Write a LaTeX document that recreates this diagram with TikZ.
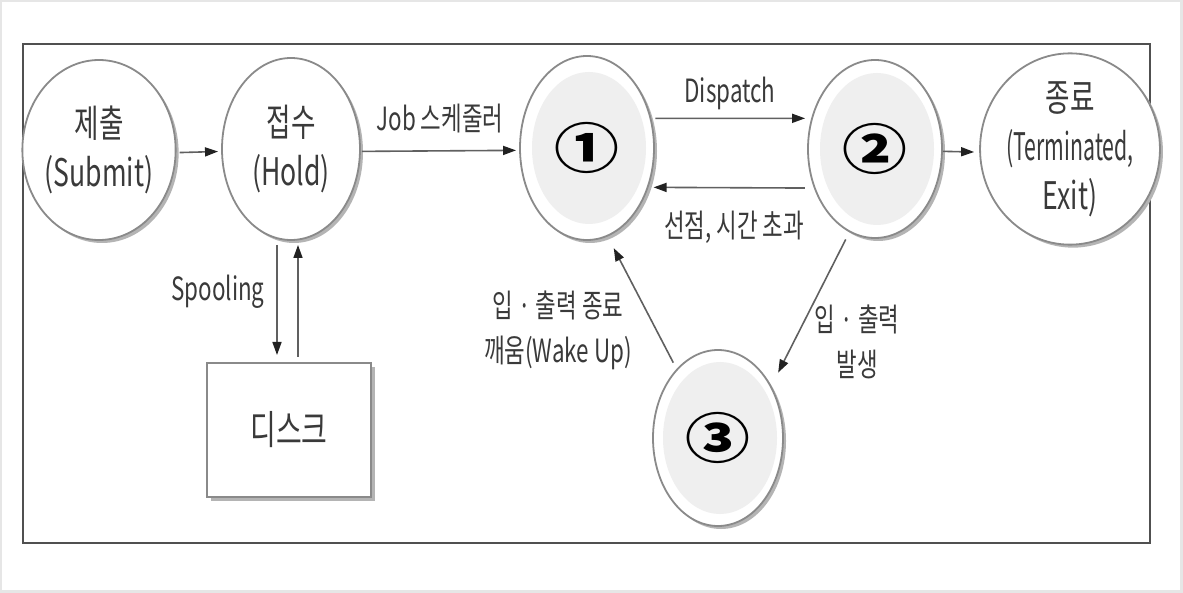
\documentclass[tikz,border=0pt]{standalone}
\usepackage{fontspec}
\setmainfont{Noto Sans CJK KR}[FakeStretch=0.7]
\newfontfamily\numfont{Noto Sans CJK KR}[FakeStretch=1.2]
\usetikzlibrary{arrows.meta,shapes.geometric,shadows,calc}
\definecolor{txt}{HTML}{3A3A3A}
\definecolor{ringc}{HTML}{8A8A8A}
\definecolor{shadc}{HTML}{B4B4B4}
\definecolor{innerc}{HTML}{EFEFEF}
\definecolor{linec}{HTML}{606060}
\definecolor{headc}{HTML}{222222}
\definecolor{framec}{HTML}{505050}
\definecolor{bgc}{HTML}{E6E6E6}
\begin{document}
\begin{tikzpicture}[x=1pt,y=-1pt,
  every node/.style={inner sep=0pt,outer sep=0pt},
  st/.style={ellipse,draw=ringc,line width=1.8pt,fill=white,
    minimum width=134pt,minimum height=180pt,
    drop shadow={shadow xshift=3pt,shadow yshift=-3pt,fill=shadc,opacity=1},
    align=center,text=txt,font=\fontsize{38}{49}\selectfont},
  act/.style={st,
    path picture={\fill[innerc] ([xshift=2pt]path picture bounding box.center) ellipse [x radius=57pt,y radius=76pt];},
    font=\numfont\bfseries\fontsize{54}{54}\selectfont,text=black},
  diskbox/.style={rectangle,draw=ringc,line width=1.6pt,fill=white,
    minimum width=164pt,minimum height=134pt,
    drop shadow={shadow xshift=4pt,shadow yshift=-4pt,fill=shadc,opacity=1},
    text=txt,font=\fontsize{40}{40}\selectfont},
  arr/.style={draw=linec,line width=1.6pt,-{Triangle[length=13pt,width=9pt,color=headc]}},
  lbl/.style={text=txt,font=\fontsize{32}{45}\selectfont,align=center}
]
\useasboundingbox (0,0) rectangle (1183,593);
\fill[bgc] (0,0) rectangle (1183,593);
\fill[white] (2,2) rectangle (1180,590);
\draw[framec,line width=2.6pt] (23,44) rectangle (1150,543);

% states
\node[st] (s) at (99,150) {제출\\(Submit)};
\node[st,minimum width=138pt,minimum height=182pt] (h) at (291,149) {접수\\(Hold)};
\node[act,minimum height=184pt] (r) at (587,148) {①};
\node[act,minimum height=178pt] (run) at (875,149) {②};
\node[st] (t) at (1070,149) {종료\\\scalebox{0.8}[1]{(Terminated,}\\Exit)};
\node[act,minimum width=130pt,minimum height=176pt] (w) at (718,438) {③};
\node[diskbox] (disk) at (289,430) {디스크};

% labels
\node[lbl] (ljob) at (440,119) {Job 스케줄러};
\node[lbl] (ldisp) at (730,93) {Dispatch};
\node[lbl] (lpre) at (734,227) {선점, 시간 초과};
\node[lbl] (lspool) at (218,292) {Spooling};
\node[lbl] (lwake) at (558,330) {입 · 출력 종료\\깨움(Wake Up)};
\node[lbl] (lio) at (857,342) {입 · 출력\\발생};

% connectors
\draw[arr,shorten <=4pt,shorten >=4pt] (s.-2) -- (h.182);
\draw[arr,shorten <=2pt,shorten >=4pt] (h.-2) -- (r.182);
\draw[arr,shorten <=5pt,shorten >=7pt] (r.25) -- (run.154);
\draw[arr,shorten <=10pt,shorten >=6pt] (run.213) -- (r.-33.5);
\draw[arr,shorten <=1pt,shorten >=6pt] (run.-2) -- (t.182);
\draw[arr] ($(h.south)+(-14,5)$) -- ($(disk.north)+(-12,-8)$);
\draw[arr] ($(disk.north)+(9,-6)$) -- ($(h.south)+(7,5)$);
\draw[arr,shorten <=9pt,shorten >=16pt] (run.-107) -- (w.44);
\draw[arr,shorten <=8pt,shorten >=14pt] (w.121) -- (r.-77);
\end{tikzpicture}
\end{document}
